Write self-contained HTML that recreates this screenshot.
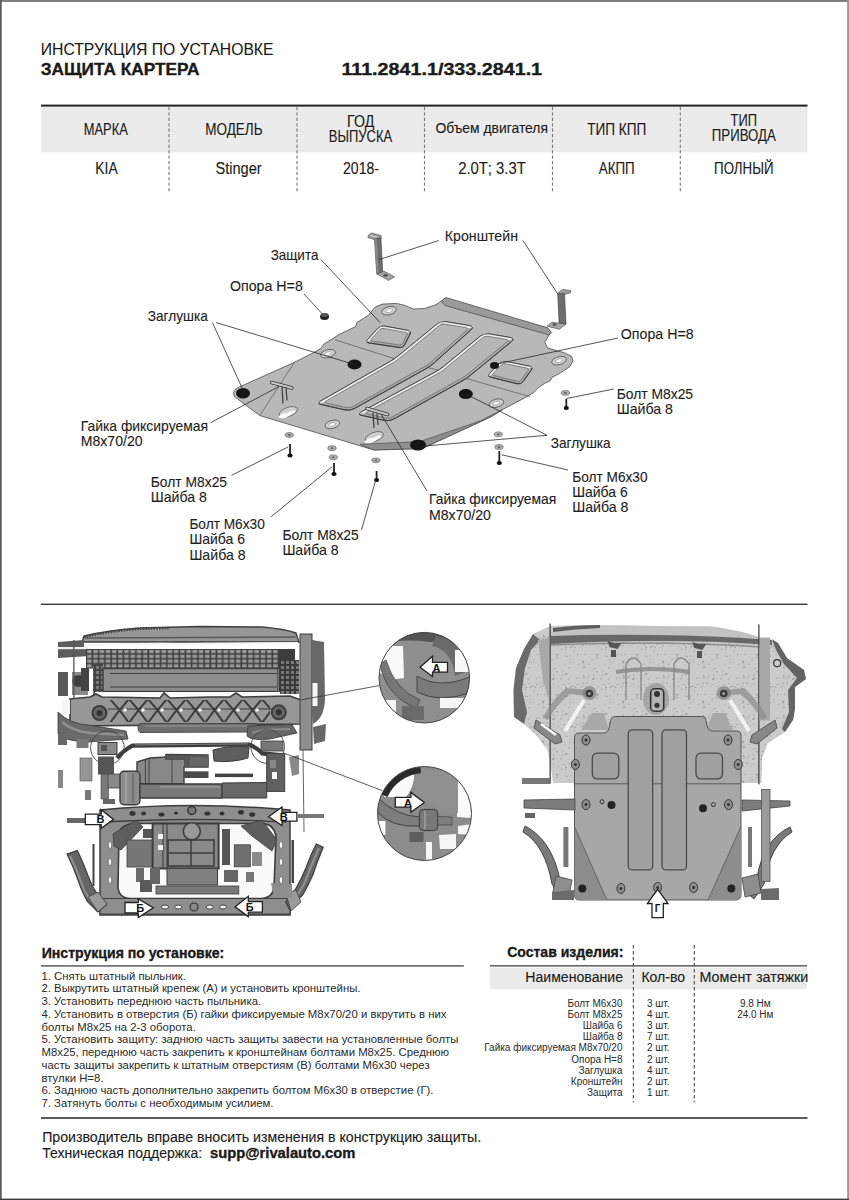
<!DOCTYPE html>
<html><head><meta charset="utf-8"><style>
html,body{margin:0;padding:0;background:#fff;}
body{width:849px;height:1200px;overflow:hidden;position:relative;}
svg{position:absolute;left:0;top:0;font-family:'Liberation Sans', sans-serif;}
</style></head><body>
<svg width="849" height="1200" viewBox="0 0 849 1200">
<rect width="849" height="1200" fill="#fff"/>
<text x="40.8" y="54.5" font-size="16.2" textLength="232.7" lengthAdjust="spacingAndGlyphs" fill="#1a1a1a" stroke="#1a1a1a" stroke-width="0.12">ИНСТРУКЦИЯ ПО УСТАНОВКЕ</text>
<text x="40.8" y="74.8" font-size="16.2" font-weight="bold" textLength="158.6" lengthAdjust="spacingAndGlyphs" fill="#1a1a1a" stroke="#1a1a1a" stroke-width="0.35">ЗАЩИТА КАРТЕРА</text>
<text x="341.4" y="74.8" font-size="16.2" font-weight="bold" textLength="200.7" lengthAdjust="spacingAndGlyphs" fill="#1a1a1a" stroke="#1a1a1a" stroke-width="0.35">111.2841.1/333.2841.1</text>
<rect x="41" y="106.5" width="766.5" height="45.8" fill="#ebebeb"/>
<rect x="41" y="104.6" width="766.5" height="2" fill="#222"/>
<line x1="169" y1="107" x2="169" y2="193.5" stroke="#777" stroke-width="1.1" stroke-dasharray="3.2,2.2"/>
<line x1="297" y1="107" x2="297" y2="193.5" stroke="#777" stroke-width="1.1" stroke-dasharray="3.2,2.2"/>
<line x1="424.5" y1="107" x2="424.5" y2="193.5" stroke="#777" stroke-width="1.1" stroke-dasharray="3.2,2.2"/>
<line x1="552.5" y1="107" x2="552.5" y2="193.5" stroke="#777" stroke-width="1.1" stroke-dasharray="3.2,2.2"/>
<line x1="680.3" y1="107" x2="680.3" y2="193.5" stroke="#777" stroke-width="1.1" stroke-dasharray="3.2,2.2"/>
<text x="105.8" y="134.6" font-size="16.3" text-anchor="middle" textLength="44.1" lengthAdjust="spacingAndGlyphs" fill="#1a1a1a" stroke="#1a1a1a" stroke-width="0.12">МАРКА</text>
<text x="233.9" y="134.6" font-size="16.3" text-anchor="middle" textLength="57.3" lengthAdjust="spacingAndGlyphs" fill="#1a1a1a" stroke="#1a1a1a" stroke-width="0.12">МОДЕЛЬ</text>
<text x="360.7" y="127.2" font-size="16.3" text-anchor="middle" textLength="27.2" lengthAdjust="spacingAndGlyphs" fill="#1a1a1a" stroke="#1a1a1a" stroke-width="0.12">ГОД</text>
<text x="360.5" y="141.8" font-size="16.3" text-anchor="middle" textLength="63.3" lengthAdjust="spacingAndGlyphs" fill="#1a1a1a" stroke="#1a1a1a" stroke-width="0.12">ВЫПУСКА</text>
<text x="491.7" y="133.2" font-size="14.6" text-anchor="middle" textLength="112.6" lengthAdjust="spacingAndGlyphs" fill="#1a1a1a" stroke="#1a1a1a" stroke-width="0.12">Объем двигателя</text>
<text x="616.7" y="134.6" font-size="16.3" text-anchor="middle" textLength="59" lengthAdjust="spacingAndGlyphs" fill="#1a1a1a" stroke="#1a1a1a" stroke-width="0.12">ТИП КПП</text>
<text x="743.8" y="125.7" font-size="16.3" text-anchor="middle" textLength="26.4" lengthAdjust="spacingAndGlyphs" fill="#1a1a1a" stroke="#1a1a1a" stroke-width="0.12">ТИП</text>
<text x="743.8" y="141.2" font-size="16.3" text-anchor="middle" textLength="64" lengthAdjust="spacingAndGlyphs" fill="#1a1a1a" stroke="#1a1a1a" stroke-width="0.12">ПРИВОДА</text>
<text x="106.5" y="174.0" font-size="16.3" text-anchor="middle" textLength="22.3" lengthAdjust="spacingAndGlyphs" fill="#1a1a1a" stroke="#1a1a1a" stroke-width="0.12">KIA</text>
<text x="238.6" y="174.0" font-size="16.3" text-anchor="middle" textLength="46.3" lengthAdjust="spacingAndGlyphs" fill="#1a1a1a" stroke="#1a1a1a" stroke-width="0.12">Stinger</text>
<text x="361" y="174.0" font-size="16.3" text-anchor="middle" textLength="36" lengthAdjust="spacingAndGlyphs" fill="#1a1a1a" stroke="#1a1a1a" stroke-width="0.12">2018-</text>
<text x="492" y="174.0" font-size="16.3" text-anchor="middle" textLength="67.7" lengthAdjust="spacingAndGlyphs" fill="#1a1a1a" stroke="#1a1a1a" stroke-width="0.12">2.0Т; 3.3Т</text>
<text x="616.7" y="174.0" font-size="16.3" text-anchor="middle" textLength="36" lengthAdjust="spacingAndGlyphs" fill="#1a1a1a" stroke="#1a1a1a" stroke-width="0.12">АКПП</text>
<text x="743.8" y="174.0" font-size="16.3" text-anchor="middle" textLength="59.4" lengthAdjust="spacingAndGlyphs" fill="#1a1a1a" stroke="#1a1a1a" stroke-width="0.12">ПОЛНЫЙ</text>
<rect x="41" y="603.6" width="766.5" height="1.4" fill="#3a3a3a"/>
<polygon points="233.5,392.5 236,388.5 294,362.5 310,354.5 321,348.5 324,344 340,334 355.5,326.7 357,322.5 368.3,315.4 375.3,307 382.4,304.1 396.5,303.4 405,305.5 413.5,309 424.8,308.4 436,304.8 441.8,300.6 444.6,299.2 547.6,328.2 551.2,332.4 549,335.2 544.8,342.3 547.6,348 554.7,350 564.6,352.9 571.7,356.4 573,360.7 570.2,366.3 561.8,372 551.9,377.6 550.5,380.5 544.8,383.3 539.3,387 533.6,392.6 526.5,396.9 502.5,409.6 491.2,416.6 470,426.5 422.2,448.5 374,450 259.6,415.5 234.2,396.4" fill="#b8b8b8" stroke="#4a4a4a" stroke-width="0.8" stroke-linejoin="round"/>
<polygon points="443,299.5 446,297.5 547.6,327.8 551.2,332.4 549,335.2 546,334 445,305.5 441.8,302" fill="#9a9a9a" stroke="#444" stroke-width="0.7"/>
<polygon points="360,444.3 420,441.5 480,421 502.5,409.6 491.2,416.6 470,426.5 422.2,448.5 374,450" fill="#8e8e8e" stroke="#444" stroke-width="0.6"/>
<polyline points="294.3,362.5 260.3,414.8" fill="none" stroke="#555" stroke-width="0.7"/>
<polyline points="335.2,339.8 394.8,358.8 435.5,369.6 530,396.7" fill="none" stroke="#555" stroke-width="0.7"/>
<path d="M377.80,328.36 Q380.50,325.40 384.43,326.12 L407.67,330.38 Q411.60,331.10 409.79,334.66 L404.81,344.44 Q403.00,348.00 399.04,347.42 L368.96,342.98 Q365.00,342.40 367.70,339.44 Z" fill="#a9a9a9" stroke="#333" stroke-width="0.8"/>
<polygon points="365,342.4 380.5,325.4 411.6,331.1 408.0,332.88 381.38,328.0 369.81,340.68" fill="#ececec"/>
<path d="M379.69,329.85 Q381.38,328.00 383.84,328.45 L405.54,332.43 Q408.00,332.88 406.87,335.11 L402.77,343.14 Q401.64,345.37 399.17,345.01 L372.28,341.04 Q369.81,340.68 371.50,338.83 Z" fill="#b6b6b6" stroke="#555" stroke-width="0.6"/>
<path d="M377.80,328.36 Q380.50,325.40 384.43,326.12 L407.67,330.38 Q411.60,331.10 409.79,334.66 L404.81,344.44 Q403.00,348.00 399.04,347.42 L368.96,342.98 Q365.00,342.40 367.70,339.44 Z" fill="none" stroke="#333" stroke-width="0.8"/>
<path d="M499.57,363.53 Q502.40,360.70 506.32,361.49 L529.58,366.21 Q533.50,367.00 531.17,370.25 L523.13,381.45 Q520.80,384.70 516.92,383.73 L490.78,377.17 Q486.90,376.20 489.73,373.37 Z" fill="#a9a9a9" stroke="#333" stroke-width="0.8"/>
<polygon points="486.9,376.2 502.4,360.7 533.5,367 529.39,368.62 503.19,363.31 491.59,374.9" fill="#ececec"/>
<path d="M501.42,365.08 Q503.19,363.31 505.64,363.81 L526.94,368.12 Q529.39,368.62 527.93,370.65 L521.26,379.95 Q519.80,381.98 517.38,381.37 L494.01,375.51 Q491.59,374.90 493.36,373.13 Z" fill="#b6b6b6" stroke="#555" stroke-width="0.6"/>
<path d="M499.57,363.53 Q502.40,360.70 506.32,361.49 L529.58,366.21 Q533.50,367.00 531.17,370.25 L523.13,381.45 Q520.80,384.70 516.92,383.73 L490.78,377.17 Q486.90,376.20 489.73,373.37 Z" fill="none" stroke="#333" stroke-width="0.8"/>
<path d="M437.04,323.98 Q440.90,320.80 445.83,321.63 L469.77,325.67 Q474.70,326.50 470.97,329.83 L433.73,363.17 Q430.00,366.50 425.63,368.93 L354.37,408.57 Q350.00,411.00 345.12,409.91 L321.18,404.59 Q316.30,403.50 320.64,401.03 L390.46,361.27 Q394.80,358.80 398.66,355.62 Z" fill="#a9a9a9" stroke="#333" stroke-width="0.8"/>
<polygon points="316.3,403.5 394.8,358.8 440.9,320.8 474.7,326.5 468.94,328.17 441.64,323.56 396.28,360.95 323.44,402.43" fill="#ececec"/>
<path d="M438.94,325.79 Q441.64,323.56 445.09,324.14 L465.49,327.59 Q468.94,328.17 466.33,330.50 L431.09,362.04 Q428.48,364.37 425.42,366.07 L352.66,406.55 Q349.60,408.25 346.18,407.49 L326.86,403.19 Q323.44,402.43 326.48,400.70 L393.24,362.68 Q396.28,360.95 398.98,358.72 Z" fill="#b6b6b6" stroke="#555" stroke-width="0.6"/>
<path d="M437.04,323.98 Q440.90,320.80 445.83,321.63 L469.77,325.67 Q474.70,326.50 470.97,329.83 L433.73,363.17 Q430.00,366.50 425.63,368.93 L354.37,408.57 Q350.00,411.00 345.12,409.91 L321.18,404.59 Q316.30,403.50 320.64,401.03 L390.46,361.27 Q394.80,358.80 398.66,355.62 Z" fill="none" stroke="#333" stroke-width="0.8"/>
<path d="M480.34,336.18 Q484.20,333.00 489.13,333.85 L510.47,337.55 Q515.40,338.40 511.53,341.57 L470.37,375.33 Q466.50,378.50 462.13,380.94 L393.77,419.06 Q389.40,421.50 384.52,420.42 L361.78,415.38 Q356.90,414.30 361.30,411.93 L435.60,371.87 Q440.00,369.50 443.86,366.32 Z" fill="#a9a9a9" stroke="#333" stroke-width="0.8"/>
<polygon points="356.9,414.3 440,369.5 484.2,333 515.4,338.4 509.36,339.99 484.93,335.77 441.46,371.67 364.28,413.27" fill="#ececec"/>
<path d="M482.23,338.00 Q484.93,335.77 488.38,336.37 L505.91,339.39 Q509.36,339.99 506.65,342.21 L467.74,374.12 Q465.03,376.34 461.97,378.05 L392.06,417.04 Q389.00,418.75 385.58,417.99 L367.70,414.03 Q364.28,413.27 367.36,411.61 L438.38,373.33 Q441.46,371.67 444.16,369.44 Z" fill="#b6b6b6" stroke="#555" stroke-width="0.6"/>
<path d="M480.34,336.18 Q484.20,333.00 489.13,333.85 L510.47,337.55 Q515.40,338.40 511.53,341.57 L470.37,375.33 Q466.50,378.50 462.13,380.94 L393.77,419.06 Q389.40,421.50 384.52,420.42 L361.78,415.38 Q356.90,414.30 361.30,411.93 L435.60,371.87 Q440.00,369.50 443.86,366.32 Z" fill="none" stroke="#333" stroke-width="0.8"/>
<ellipse cx="354.5" cy="364.5" rx="7" ry="5" fill="#151515"/>
<ellipse cx="465.8" cy="394.1" rx="7" ry="5" fill="#151515"/>
<ellipse cx="494.5" cy="365.6" rx="4.5" ry="3.5" fill="#151515"/>
<ellipse cx="418" cy="445" rx="8" ry="5.5" fill="#151515"/>
<ellipse cx="243" cy="393.3" rx="7" ry="5.2" fill="#151515"/>
<ellipse cx="389" cy="310.7" rx="7.5" ry="4" fill="#d0d0d0" stroke="#444" stroke-width="0.7" transform="rotate(-15 389 310.7)"/>
<ellipse cx="389" cy="310.7" rx="3.5" ry="1.8" fill="#fafafa" stroke="#666" stroke-width="0.4" transform="rotate(-15 389 310.7)"/>
<ellipse cx="328" cy="353.7" rx="7.5" ry="4" fill="#d0d0d0" stroke="#444" stroke-width="0.7" transform="rotate(-15 328 353.7)"/>
<ellipse cx="328" cy="353.7" rx="3.5" ry="1.8" fill="#fafafa" stroke="#666" stroke-width="0.4" transform="rotate(-15 328 353.7)"/>
<ellipse cx="496.4" cy="403.2" rx="7.5" ry="4" fill="#d0d0d0" stroke="#444" stroke-width="0.7" transform="rotate(-15 496.4 403.2)"/>
<ellipse cx="496.4" cy="403.2" rx="3.5" ry="1.8" fill="#fafafa" stroke="#666" stroke-width="0.4" transform="rotate(-15 496.4 403.2)"/>
<ellipse cx="332.4" cy="424.4" rx="7.5" ry="4" fill="#d0d0d0" stroke="#444" stroke-width="0.7" transform="rotate(-15 332.4 424.4)"/>
<ellipse cx="332.4" cy="424.4" rx="3.5" ry="1.8" fill="#fafafa" stroke="#666" stroke-width="0.4" transform="rotate(-15 332.4 424.4)"/>
<ellipse cx="559" cy="360.7" rx="7.5" ry="4" fill="#d0d0d0" stroke="#444" stroke-width="0.7" transform="rotate(-15 559 360.7)"/>
<ellipse cx="559" cy="360.7" rx="3.5" ry="1.8" fill="#fafafa" stroke="#666" stroke-width="0.4" transform="rotate(-15 559 360.7)"/>
<ellipse cx="289" cy="412.5" rx="9.5" ry="4.5" fill="#cfcfcf" stroke="#444" stroke-width="0.6" transform="rotate(-20 287 414)"/>
<path d="M278,417 q4,-4 9,-4 q5,-2 7,-3 l1,2 q-4,2 -6,4 q-6,4 -11,1 z" fill="#fdfdfd"/>
<ellipse cx="375" cy="437.5" rx="9.5" ry="4.5" fill="#cfcfcf" stroke="#444" stroke-width="0.6" transform="rotate(-20 373 439)"/>
<path d="M364,442 q4,-4 9,-4 q5,-2 7,-3 l1,2 q-4,2 -6,4 q-6,4 -11,1 z" fill="#fdfdfd"/>
<line x1="271.6" y1="382.5" x2="292" y2="388" stroke="#333" stroke-width="3.4" stroke-linecap="round"/>
<line x1="271.6" y1="382.5" x2="292" y2="388" stroke="#c9c9c9" stroke-width="2" stroke-linecap="round"/>
<line x1="282" y1="386.25" x2="283" y2="403.5" stroke="#444" stroke-width="1.3"/>
<line x1="286" y1="387.25" x2="287" y2="400.5" stroke="#444" stroke-width="1.3"/>
<line x1="367" y1="408.5" x2="387.6" y2="414.5" stroke="#333" stroke-width="3.4" stroke-linecap="round"/>
<line x1="367" y1="408.5" x2="387.6" y2="414.5" stroke="#c9c9c9" stroke-width="2" stroke-linecap="round"/>
<line x1="373" y1="412.5" x2="374" y2="428" stroke="#444" stroke-width="1.3"/>
<line x1="377" y1="413.5" x2="378" y2="425" stroke="#444" stroke-width="1.3"/>
<ellipse cx="324.5" cy="316.5" rx="4.5" ry="3.5" fill="#222"/>
<ellipse cx="324.5" cy="315" rx="3.5" ry="2" fill="#555"/>
<polygon points="368.3,235.2 371.5,233 381,235.5 381.2,238.3 374.4,239.6 368,237.6" fill="#9a9a9a" stroke="#444" stroke-width="0.6" stroke-linejoin="round"/>
<line x1="370" y1="235.5" x2="377" y2="237.2" stroke="#eee" stroke-width="0.8"/>
<polygon points="374.4,239.2 380.9,237.8 382.7,271.5 376.8,274" fill="#6e6e6e" stroke="#3a3a3a" stroke-width="0.6" stroke-linejoin="round"/>
<polygon points="374.4,239.2 376.6,238.7 378.6,273.3 376.8,274" fill="#8a8a8a"/>
<polygon points="376.8,274 383.9,271.3 394.5,276.8 388.6,280.4" fill="#a6a6a6" stroke="#3a3a3a" stroke-width="0.6" stroke-linejoin="round"/>
<ellipse cx="385.6" cy="275.3" rx="2.2" ry="1.5" fill="#555"/>
<polygon points="557.4,293.2 562.6,289.4 570.7,290.5 570.5,292.8 564.5,294.4 558,294.6" fill="#9a9a9a" stroke="#444" stroke-width="0.6" stroke-linejoin="round"/>
<polygon points="557.7,293.9 564.5,293.7 566,323.9 559.3,327.2" fill="#6e6e6e" stroke="#3a3a3a" stroke-width="0.6" stroke-linejoin="round"/>
<polygon points="547,326.2 551.8,322.2 566,323.9 559.3,329.3" fill="#a6a6a6" stroke="#3a3a3a" stroke-width="0.6" stroke-linejoin="round"/>
<ellipse cx="554.6" cy="324.6" rx="2.2" ry="1.4" fill="#555"/>
<ellipse cx="289.2" cy="435" rx="4.2" ry="2.4" fill="#b0b0b0" stroke="#555" stroke-width="0.6"/>
<ellipse cx="289.2" cy="435" rx="1.6" ry="0.9" fill="#666"/>
<ellipse cx="332" cy="448.2" rx="4.2" ry="2.4" fill="#b0b0b0" stroke="#555" stroke-width="0.6"/>
<ellipse cx="332" cy="448.2" rx="1.6" ry="0.9" fill="#666"/>
<ellipse cx="333.3" cy="457.3" rx="4.2" ry="2.4" fill="#b0b0b0" stroke="#555" stroke-width="0.6"/>
<ellipse cx="333.3" cy="457.3" rx="1.6" ry="0.9" fill="#666"/>
<ellipse cx="375.9" cy="460.3" rx="4.2" ry="2.4" fill="#b0b0b0" stroke="#555" stroke-width="0.6"/>
<ellipse cx="375.9" cy="460.3" rx="1.6" ry="0.9" fill="#666"/>
<ellipse cx="565.4" cy="392.9" rx="4.2" ry="2.4" fill="#b0b0b0" stroke="#555" stroke-width="0.6"/>
<ellipse cx="565.4" cy="392.9" rx="1.6" ry="0.9" fill="#666"/>
<ellipse cx="498.3" cy="434.3" rx="4.2" ry="2.4" fill="#b0b0b0" stroke="#555" stroke-width="0.6"/>
<ellipse cx="498.3" cy="434.3" rx="1.6" ry="0.9" fill="#666"/>
<ellipse cx="499" cy="447" rx="4.2" ry="2.4" fill="#b0b0b0" stroke="#555" stroke-width="0.6"/>
<ellipse cx="499" cy="447" rx="1.6" ry="0.9" fill="#666"/>
<line x1="290" y1="444" x2="290" y2="455.5" stroke="#222" stroke-width="1.8"/>
<ellipse cx="290" cy="455.5" rx="2.6" ry="1.9" fill="#111"/>
<line x1="334" y1="463" x2="334" y2="474" stroke="#222" stroke-width="1.8"/>
<ellipse cx="334" cy="474" rx="2.6" ry="1.9" fill="#111"/>
<line x1="376.6" y1="471" x2="376.6" y2="480" stroke="#222" stroke-width="1.8"/>
<ellipse cx="376.6" cy="480" rx="2.6" ry="1.9" fill="#111"/>
<line x1="566.3" y1="399" x2="566.3" y2="408" stroke="#222" stroke-width="1.8"/>
<ellipse cx="566.3" cy="408" rx="2.6" ry="1.9" fill="#111"/>
<line x1="499.3" y1="451" x2="499.3" y2="463" stroke="#222" stroke-width="1.8"/>
<ellipse cx="499.3" cy="463" rx="2.6" ry="1.9" fill="#111"/>
<line x1="438.6" y1="240.6" x2="379.1" y2="259.5" stroke="#2a2a2a" stroke-width="0.8"/>
<line x1="523" y1="240.6" x2="557.5" y2="293.7" stroke="#2a2a2a" stroke-width="0.8"/>
<line x1="321" y1="259.6" x2="380" y2="322.5" stroke="#2a2a2a" stroke-width="0.8"/>
<line x1="304" y1="294" x2="322" y2="313.6" stroke="#2a2a2a" stroke-width="0.8"/>
<line x1="212.4" y1="322.5" x2="243" y2="390" stroke="#2a2a2a" stroke-width="0.8"/>
<line x1="216" y1="322.5" x2="354.5" y2="364.5" stroke="#2a2a2a" stroke-width="0.8"/>
<line x1="618" y1="338" x2="497" y2="364" stroke="#2a2a2a" stroke-width="0.8"/>
<line x1="613.8" y1="389" x2="566.4" y2="398.5" stroke="#2a2a2a" stroke-width="0.8"/>
<line x1="547" y1="435.3" x2="466" y2="394" stroke="#2a2a2a" stroke-width="0.8"/>
<line x1="547" y1="435.3" x2="425" y2="446" stroke="#2a2a2a" stroke-width="0.8"/>
<line x1="501.8" y1="454.8" x2="568" y2="470" stroke="#2a2a2a" stroke-width="0.8"/>
<line x1="381" y1="414" x2="427" y2="491" stroke="#2a2a2a" stroke-width="0.8"/>
<line x1="210.8" y1="422.6" x2="279" y2="386.5" stroke="#2a2a2a" stroke-width="0.8"/>
<line x1="231.5" y1="475.4" x2="288" y2="447" stroke="#2a2a2a" stroke-width="0.8"/>
<line x1="271" y1="516.8" x2="332" y2="467" stroke="#2a2a2a" stroke-width="0.8"/>
<line x1="361.5" y1="530" x2="376" y2="479" stroke="#2a2a2a" stroke-width="0.8"/>
<text x="444.8" y="240.6" font-size="14.1" textLength="73.2" lengthAdjust="spacingAndGlyphs" fill="#1e1e1e" stroke="#1e1e1e" stroke-width="0.12">Кронштейн</text>
<text x="270.7" y="259.6" font-size="14.1" textLength="47.7" lengthAdjust="spacingAndGlyphs" fill="#1e1e1e" stroke="#1e1e1e" stroke-width="0.12">Защита</text>
<text x="230" y="290.7" font-size="14.1" textLength="72.8" lengthAdjust="spacingAndGlyphs" fill="#1e1e1e" stroke="#1e1e1e" stroke-width="0.12">Опора Н=8</text>
<text x="147.8" y="320.7" font-size="14.1" textLength="60" lengthAdjust="spacingAndGlyphs" fill="#1e1e1e" stroke="#1e1e1e" stroke-width="0.12">Заглушка</text>
<text x="620.8" y="338.7" font-size="14.1" textLength="72.8" lengthAdjust="spacingAndGlyphs" fill="#1e1e1e" stroke="#1e1e1e" stroke-width="0.12">Опора Н=8</text>
<text x="616.7" y="399.0" font-size="14.1" textLength="76.4" lengthAdjust="spacingAndGlyphs" fill="#1e1e1e" stroke="#1e1e1e" stroke-width="0.12">Болт М8х25</text>
<text x="616.7" y="414.35" font-size="14.1" textLength="56.2" lengthAdjust="spacingAndGlyphs" fill="#1e1e1e" stroke="#1e1e1e" stroke-width="0.12">Шайба 8</text>
<text x="80.7" y="431.0" font-size="14.1" textLength="127.3" lengthAdjust="spacingAndGlyphs" fill="#1e1e1e" stroke="#1e1e1e" stroke-width="0.12">Гайка фиксируемая</text>
<text x="80.7" y="446.35" font-size="14.1" fill="#1e1e1e" stroke="#1e1e1e" stroke-width="0.12">М8х70/20</text>
<text x="550.7" y="447.7" font-size="14.1" textLength="60" lengthAdjust="spacingAndGlyphs" fill="#1e1e1e" stroke="#1e1e1e" stroke-width="0.12">Заглушка</text>
<text x="150.7" y="487.0" font-size="14.1" textLength="76.4" lengthAdjust="spacingAndGlyphs" fill="#1e1e1e" stroke="#1e1e1e" stroke-width="0.12">Болт М8х25</text>
<text x="150.7" y="502.35" font-size="14.1" textLength="56.2" lengthAdjust="spacingAndGlyphs" fill="#1e1e1e" stroke="#1e1e1e" stroke-width="0.12">Шайба 8</text>
<text x="572.2" y="481.6" font-size="14.1" textLength="75.4" lengthAdjust="spacingAndGlyphs" fill="#1e1e1e" stroke="#1e1e1e" stroke-width="0.12">Болт М6х30</text>
<text x="572.2" y="496.95" font-size="14.1" textLength="55.6" lengthAdjust="spacingAndGlyphs" fill="#1e1e1e" stroke="#1e1e1e" stroke-width="0.12">Шайба 6</text>
<text x="572.2" y="512.3" font-size="14.1" textLength="56.2" lengthAdjust="spacingAndGlyphs" fill="#1e1e1e" stroke="#1e1e1e" stroke-width="0.12">Шайба 8</text>
<text x="429" y="504.2" font-size="14.1" textLength="127.3" lengthAdjust="spacingAndGlyphs" fill="#1e1e1e" stroke="#1e1e1e" stroke-width="0.12">Гайка фиксируемая</text>
<text x="429" y="519.55" font-size="14.1" fill="#1e1e1e" stroke="#1e1e1e" stroke-width="0.12">М8х70/20</text>
<text x="189.4" y="529.0" font-size="14.1" textLength="75.4" lengthAdjust="spacingAndGlyphs" fill="#1e1e1e" stroke="#1e1e1e" stroke-width="0.12">Болт М6х30</text>
<text x="189.4" y="544.35" font-size="14.1" textLength="55.6" lengthAdjust="spacingAndGlyphs" fill="#1e1e1e" stroke="#1e1e1e" stroke-width="0.12">Шайба 6</text>
<text x="189.4" y="559.7" font-size="14.1" textLength="56.2" lengthAdjust="spacingAndGlyphs" fill="#1e1e1e" stroke="#1e1e1e" stroke-width="0.12">Шайба 8</text>
<text x="282.4" y="539.5" font-size="14.1" textLength="76.4" lengthAdjust="spacingAndGlyphs" fill="#1e1e1e" stroke="#1e1e1e" stroke-width="0.12">Болт М8х25</text>
<text x="282.4" y="554.85" font-size="14.1" textLength="56.2" lengthAdjust="spacingAndGlyphs" fill="#1e1e1e" stroke="#1e1e1e" stroke-width="0.12">Шайба 8</text>
<path d="M82,642 L84,636 Q110,630 140,628 L200,626.5 L262,627 Q285,629 296,633 L299,642 Z" fill="#969696" stroke="#3d3d3d" stroke-width="1.4"/>
<path d="M84,637 Q110,631 140,629 L170,628" fill="none" stroke="#444" stroke-width="2.2" stroke-dasharray="1.5,1.2"/>
<path d="M85,638 L296,637" stroke="#5a5a5a" stroke-width="1.6"/>
<path d="M62,646 Q120,643.5 180,644 L298,643" fill="none" stroke="#f6f6f6" stroke-width="2.2"/>
<path d="M58,642 L84,640 L84,648 L90,650 L90,656 L58,658 Z" fill="#5c5c5c"/>
<rect x="58" y="647" width="30" height="2.2" fill="#eee"/>
<rect x="58" y="672" width="10" height="24" fill="#5a5a5a"/>
<rect x="72" y="672" width="16" height="23" fill="#8a8a8a"/>
<circle cx="78.3" cy="681" r="6" fill="#3f3f3f"/>
<rect x="81" y="668" width="8" height="23" fill="#444"/>
<rect x="73.2" y="640" width="1.3" height="90" fill="#555"/>
<rect x="86" y="649" width="209" height="19.5" fill="#3d3d3d"/>
<defs><pattern id="grl" x="86" y="649" width="6.2" height="4.8" patternUnits="userSpaceOnUse"><rect x="1.1" y="0.9" width="4.6" height="3.3" fill="#999"/></pattern><pattern id="grd" x="0" y="0" width="5" height="5" patternUnits="userSpaceOnUse"><rect x="1" y="1" width="3" height="3" fill="#777"/></pattern></defs>
<rect x="87" y="650" width="192" height="18" fill="url(#grl)"/>
<rect x="279" y="660" width="20" height="34" fill="#3a3a3a"/><rect x="279" y="660" width="20" height="34" fill="url(#grd)"/>
<rect x="93" y="664" width="10" height="32" fill="#444"/><rect x="93" y="664" width="10" height="32" fill="url(#grd)"/>
<rect x="103" y="668.5" width="175" height="23" fill="#8e8e8e" stroke="#3d3d3d" stroke-width="1.4"/>
<line x1="110" y1="673.5" x2="277" y2="673.5" stroke="#3d3d3d" stroke-width="1.1"/>
<line x1="110" y1="687" x2="277" y2="687" stroke="#3d3d3d" stroke-width="1.1"/>
<rect x="95" y="692" width="185" height="4.5" fill="#fbfbfb"/>
<path d="M70,699 L90,697 L96,694 L102,697 L160,698 L164,693 L170,698 L210,697 L230,697 L236,693 L242,697 L290,696 L301,700 L301,724 L70,726 Z" fill="#979797" stroke="#3d3d3d" stroke-width="1.6"/>
<defs><pattern id="xp" x="110" y="699" width="19" height="24" patternUnits="userSpaceOnUse"><path d="M0,0 L9.5,11 L0,24 M19,0 L9.5,11 L19,24 M9.5,11 L9.5,13" stroke="#3d3d3d" stroke-width="2.0" fill="none"/></pattern></defs>
<rect x="110" y="700" width="160" height="22" fill="url(#xp)"/>
<line x1="108" y1="709" x2="272" y2="709" stroke="#3d3d3d" stroke-width="1.2"/>
<circle cx="99.5" cy="713" r="7" fill="#666" stroke="#3d3d3d" stroke-width="2"/><circle cx="99.5" cy="713" r="3" fill="#333"/>
<circle cx="278.8" cy="712.3" r="7" fill="#666" stroke="#3d3d3d" stroke-width="2"/><circle cx="278.8" cy="712.3" r="3" fill="#333"/>
<circle cx="125" cy="710" r="1.8" fill="#f2f2f2"/>
<circle cx="143" cy="710" r="1.8" fill="#f2f2f2"/>
<circle cx="162" cy="710" r="1.8" fill="#f2f2f2"/>
<circle cx="181" cy="710" r="1.8" fill="#f2f2f2"/>
<circle cx="200" cy="710" r="1.8" fill="#f2f2f2"/>
<circle cx="219" cy="710" r="1.8" fill="#f2f2f2"/>
<circle cx="238" cy="710" r="1.8" fill="#f2f2f2"/>
<circle cx="257" cy="710" r="1.8" fill="#f2f2f2"/>
<rect x="62" y="700" width="8" height="14" fill="#f6f6f6"/>
<rect x="300" y="634" width="12" height="116" fill="#8e8e8e" stroke="#3d3d3d" stroke-width="1"/>
<line x1="303" y1="750" x2="304" y2="832" stroke="#666" stroke-width="1"/>
<path d="M312,640 L324,642 L325,700 Q324,718 313,724 L312,716 Z" fill="#686868"/>
<rect x="312.5" y="683" width="5" height="23" fill="#f5f5f5"/>
<path d="M313,727 L326,724 L325,741 L314,744 Z" fill="#686868"/>
<path d="M58,712 Q70,724 88,725 L126,731 L128,739 L88,742 Q64,741 58,734 Z" fill="#6a6a6a" stroke="#3a3a3a" stroke-width="0.8"/>
<path d="M62,722 Q72,731 90,733 L124,735" fill="none" stroke="#8f8f8f" stroke-width="2.5"/>
<rect x="58" y="732" width="9" height="13" fill="#686868"/>
<rect x="76.5" y="739" width="12" height="9" fill="#7a7a7a"/>
<path d="M140,723.5 L255,723.5 L262,726 L258,732 L140,732.5 Q136,729 140,723.5 Z" fill="#6e6e6e" stroke="#3a3a3a" stroke-width="0.8"/>
<path d="M145,726 L250,726" stroke="#8c8c8c" stroke-width="1.6"/>
<path d="M248,726 L292,724.5 L297,733 L270,739 Q252,741 247,736 Z" fill="#666" stroke="#3a3a3a" stroke-width="0.8"/>
<path d="M252,733 Q262,729 290,729" fill="none" stroke="#8a8a8a" stroke-width="2"/>
<path d="M117,758 Q124,750 132.4,745.6 L248.8,744.5 Q256,747 262.2,753.4 L285,755.7" fill="none" stroke="#3d3d3d" stroke-width="4.2"/>
<path d="M135,744.8 L248,743.8" stroke="#777" stroke-width="1.3"/>
<circle cx="107.4" cy="747.7" r="16.8" fill="none" stroke="#444" stroke-width="0.9"/>
<circle cx="267.7" cy="746.6" r="16.8" fill="none" stroke="#444" stroke-width="0.9"/>
<rect x="98" y="742.5" width="19" height="12" fill="#8a8a8a" stroke="#3d3d3d" stroke-width="1"/>
<rect x="101" y="745" width="6" height="6" fill="#555"/>
<rect x="261" y="741" width="22" height="10" fill="#777" stroke="#3d3d3d" stroke-width="0.8"/>
<path d="M213,750 Q230,745 249,747 L248,758 Q232,763 214,761 Z" fill="#5e5e5e" stroke="#3d3d3d" stroke-width="1"/>
<rect x="80" y="758" width="12" height="23" fill="#959595" stroke="#555" stroke-width="0.6"/>
<rect x="98" y="756.5" width="16" height="18" fill="#555"/>
<rect x="101" y="774" width="7.5" height="25" fill="#7a7a7a" stroke="#444" stroke-width="0.6"/>
<rect x="108" y="774" width="12.5" height="14" fill="#8a8a8a" stroke="#444" stroke-width="0.8"/>
<rect x="103" y="799" width="12" height="5" fill="#666"/>
<path d="M137,762 L150,758 L165,757 L166,754.5 L208,755 L208,767 L184,767 L184,783.6 L137,783.6 Z" fill="#888" stroke="#3d3d3d" stroke-width="1.4"/>
<path d="M165,755 L208,755 L208,767 L184,767 L184,760 L165,760 Z" fill="#555"/>
<line x1="145.4" y1="759" x2="145.4" y2="783" stroke="#3d3d3d" stroke-width="0.9"/>
<line x1="149" y1="759" x2="149" y2="783" stroke="#3d3d3d" stroke-width="0.9"/>
<line x1="172" y1="759" x2="172" y2="783" stroke="#3d3d3d" stroke-width="0.9"/>
<rect x="184" y="771.3" width="24.5" height="6.7" fill="#4a4a4a"/>
<rect x="215" y="773.6" width="38" height="3.5" fill="#444"/>
<rect x="120" y="771.3" width="20" height="33.5" rx="4" fill="#8c8c8c" stroke="#3d3d3d" stroke-width="1.4"/>
<line x1="126" y1="773" x2="126" y2="803" stroke="#aaa" stroke-width="1.5"/>
<line x1="133" y1="773" x2="133" y2="803" stroke="#555" stroke-width="1"/>
<path d="M140,784 L222,784 L222,798 L140,798 Z" fill="#7a7a7a" stroke="#3d3d3d" stroke-width="1.3"/>
<path d="M160,787 L220,787" stroke="#999" stroke-width="1.5"/>
<path d="M222,783 L266.7,782.5 L266.7,798 L222,798 Z" fill="#686868" stroke="#3d3d3d" stroke-width="1"/>
<rect x="266.7" y="753.4" width="18" height="38" fill="#606060" stroke="#3d3d3d" stroke-width="1"/>
<rect x="270" y="760" width="6" height="8" fill="#888"/><rect x="272" y="772" width="5" height="7" fill="#fafafa"/>
<path d="M289,757 L299,755 L299,774 L292,776 Z" fill="#8a8a8a"/>
<rect x="190" y="757" width="19" height="9" fill="#666"/>
<rect x="58" y="770" width="5" height="18" fill="#888"/>
<rect x="85" y="790" width="6" height="10" fill="#777"/>
<path d="M100,810 Q190,801 290,810 L290,915 L100,915 Z" fill="#8e8e8e" stroke="#3d3d3d" stroke-width="1.5"/>
<path d="M119,832 Q122,824 135,823.5 L262,823.5 Q274,824 276,836 L274,888 Q272,898 262,898.5 L130,898.5 Q119,898 118,888 Z" fill="#fafafa" stroke="#3d3d3d" stroke-width="1.6"/>
<path d="M104,822 Q190,817 286,822" fill="none" stroke="#3d3d3d" stroke-width="1.3"/>
<ellipse cx="132.5" cy="813.4" rx="3" ry="2.3" fill="#333"/>
<ellipse cx="143.6" cy="813.4" rx="2.5" ry="2" fill="#333"/>
<ellipse cx="161.5" cy="814.5" rx="3" ry="2" fill="#333"/>
<ellipse cx="207.4" cy="813.4" rx="3" ry="2" fill="#333"/>
<ellipse cx="222" cy="813.4" rx="2.5" ry="2" fill="#333"/>
<ellipse cx="241" cy="812.3" rx="3" ry="2.3" fill="#333"/>
<ellipse cx="252.2" cy="814.5" rx="3" ry="2.3" fill="#333"/>
<ellipse cx="176" cy="813" rx="2" ry="1.6" fill="#333"/>
<circle cx="191.8" cy="810.5" r="4" fill="#777" stroke="#333" stroke-width="1.4"/>
<ellipse cx="110" cy="845" rx="1.8" ry="3.5" fill="#f3f3f3" stroke="#444" stroke-width="0.6"/>
<ellipse cx="281" cy="845" rx="1.8" ry="3.5" fill="#f3f3f3" stroke="#444" stroke-width="0.6"/>
<ellipse cx="110" cy="862" rx="1.8" ry="3.5" fill="#f3f3f3" stroke="#444" stroke-width="0.6"/>
<ellipse cx="281" cy="862" rx="1.8" ry="3.5" fill="#f3f3f3" stroke="#444" stroke-width="0.6"/>
<ellipse cx="110" cy="880" rx="1.8" ry="3.5" fill="#f3f3f3" stroke="#444" stroke-width="0.6"/>
<ellipse cx="281" cy="880" rx="1.8" ry="3.5" fill="#f3f3f3" stroke="#444" stroke-width="0.6"/>
<path d="M113,834 L136,820 L143,827 L121,850 L114,846 Z" fill="#5e5e5e" stroke="#3d3d3d" stroke-width="0.8"/>
<path d="M241,826 L262,820 L277,840 L272,851 L252,836 Z" fill="#5e5e5e" stroke="#3d3d3d" stroke-width="0.8"/>
<rect x="127" y="840" width="25.6" height="27" fill="#777" stroke="#3d3d3d" stroke-width="0.8"/>
<rect x="136" y="868" width="8" height="14" fill="#6a6a6a"/>
<rect x="140" y="880" width="12" height="12" fill="#5a5a5a"/>
<rect x="143" y="829" width="9" height="9" fill="#555"/>
<rect x="152.6" y="823.5" width="66" height="45" fill="#8a8a8a" stroke="#3d3d3d" stroke-width="2"/>
<circle cx="191.8" cy="831.3" r="8.5" fill="#999" stroke="#3d3d3d" stroke-width="1.6"/>
<rect x="168" y="840" width="46" height="26" fill="none" stroke="#3d3d3d" stroke-width="1.6"/>
<line x1="168" y1="853" x2="214" y2="853" stroke="#3d3d3d" stroke-width="1.5"/>
<line x1="191" y1="840" x2="191" y2="866" stroke="#3d3d3d" stroke-width="1.5"/>
<line x1="163" y1="824" x2="163" y2="868" stroke="#3d3d3d" stroke-width="1.1"/>
<line x1="167" y1="824" x2="167" y2="868" stroke="#3d3d3d" stroke-width="1.1"/>
<rect x="158" y="834" width="5" height="5" fill="#f5f5f5"/><rect x="158" y="845" width="5" height="5" fill="#f5f5f5"/>
<rect x="167" y="868.3" width="50.5" height="16.7" fill="#808080" stroke="#3d3d3d" stroke-width="1"/>
<rect x="156" y="886" width="82.8" height="8" fill="#7a7a7a" stroke="#3d3d3d" stroke-width="0.8"/>
<rect x="150" y="868" width="10" height="16" fill="#666"/>
<rect x="234.3" y="844.8" width="16" height="22" fill="#707070" stroke="#3d3d3d" stroke-width="0.8"/>
<rect x="222" y="829" width="8" height="36" fill="#555"/>
<rect x="252" y="852" width="10" height="14" fill="#8a8a8a"/>
<rect x="224" y="870" width="14" height="12" fill="#666"/>
<rect x="246" y="872" width="8" height="10" fill="#777"/>
<path d="M100,898.5 L290,898.5 L290,914 L100,914 Z" fill="#8e8e8e" stroke="#3d3d3d" stroke-width="1.2"/>
<ellipse cx="165" cy="907" rx="3.6" ry="2" fill="#f0f0f0" stroke="#333" stroke-width="0.9"/>
<ellipse cx="178.3" cy="907" rx="3.6" ry="2" fill="#f0f0f0" stroke="#333" stroke-width="0.9"/>
<ellipse cx="209.7" cy="907" rx="3.6" ry="2" fill="#f0f0f0" stroke="#333" stroke-width="0.9"/>
<ellipse cx="223" cy="907" rx="3.6" ry="2" fill="#f0f0f0" stroke="#333" stroke-width="0.9"/>
<circle cx="194" cy="907" r="4" fill="#888" stroke="#333" stroke-width="1.2"/>
<path d="M67,854 Q73,866 77.3,878 Q82,892 87.6,901.7 L97.8,912 L106.4,905 Q101,900 97.8,895 Q91,885 87.6,874.6 Q82,860 77.3,850.6 Z" fill="#666" stroke="#3d3d3d" stroke-width="1.2"/>
<path d="M70,856 Q78,872 84,890 Q88,898 95,904" fill="none" stroke="#8e8e8e" stroke-width="2.2"/>
<path d="M88,897 L98,892 L107,904 L98,912 Z" fill="#9a9a9a" stroke="#3d3d3d" stroke-width="0.8"/>
<path d="M323.2,847.3 Q317,862 313,874.6 Q308,886 302.7,895 L289,908.8 L285.7,902 Q291,896 296,888.2 Q302,878 306,867.7 Q311,854 316.4,844 Z" fill="#666" stroke="#3d3d3d" stroke-width="1.2"/>
<path d="M319,848 Q311,866 305,882 Q299,894 291,903" fill="none" stroke="#8e8e8e" stroke-width="2.2"/>
<path d="M286,894 L296,890 L301,902 L291,911 Z" fill="#9a9a9a" stroke="#3d3d3d" stroke-width="0.8"/>
<rect x="92.5" y="844" width="2" height="42" fill="#444"/>
<rect x="291.5" y="840" width="2.5" height="43" fill="#444"/>
<path d="M271,883 L292,884 L292,898 L274,898 Z" fill="#8e8e8e"/>
<rect x="67" y="818" width="19" height="5" fill="#666"/>
<rect x="298" y="814" width="26" height="4" fill="#777"/>
<path d="M85.3,814.1 L101.2,814.1 L101.2,809.7 L113.6,819.4000000000001 L101.2,828.3 L101.2,824.7 L85.3,824.7 Z" fill="#fff" stroke="#222" stroke-width="1.3"/>
<text x="100.44999999999999" y="823.4000000000001" font-size="11" font-weight="bold" text-anchor="middle" fill="#111">В</text>
<path d="M296.9,812.4 L282,812.4 L282,807 L268.6,816.8 L282,825.6 L282,821.2 L296.9,821.2 Z" fill="#fff" stroke="#222" stroke-width="1.3"/>
<text x="283.75" y="820.8" font-size="11" font-weight="bold" text-anchor="middle" fill="#111">В</text>
<path d="M125,902.5 L138.3,902.5 L138.3,898.9 L153.3,907.75 L138.3,917.5 L138.3,913 L125,913 Z" fill="#fff" stroke="#222" stroke-width="1.3"/>
<text x="140.15" y="911.75" font-size="11" font-weight="bold" text-anchor="middle" fill="#111">Б</text>
<path d="M262.4,901.6 L248.3,901.6 L248.3,896.3 L235,906.9000000000001 L248.3,916.6 L248.3,912.2 L262.4,912.2 Z" fill="#fff" stroke="#222" stroke-width="1.3"/>
<text x="249.7" y="910.9000000000001" font-size="11" font-weight="bold" text-anchor="middle" fill="#111">Б</text>
<defs><clipPath id="c1"><circle cx="424.3" cy="677.7" r="45.3"/></clipPath><clipPath id="c2"><circle cx="424.5" cy="813.5" r="47"/></clipPath></defs>
<g clip-path="url(#c1)">
<rect x="378" y="631" width="93" height="94" fill="#8f8f8f"/>
<path d="M380,632 L470,632 L470,650 Q450,640 430,642 Q400,638 380,645 Z" fill="#555"/>
<path d="M379,646 L403,646 L404,678 L390,680 L379,672 Z" fill="#fafafa"/>
<path d="M436,636 Q462,640 466,672 L455,676 Q452,650 432,646 Z" fill="#6a6a6a"/>
<path d="M417,676 Q440,690 472,676 L472,692 Q440,704 417,692 Z" fill="#7a7a7a" stroke="#444" stroke-width="1"/>
<path d="M386,660 Q395,690 420,700 L416,708 Q386,696 380,664 Z" fill="#777" stroke="#444" stroke-width="0.8"/>
<rect x="455" y="650" width="16" height="22" fill="#f8f8f8"/>
<rect x="440" y="698" width="30" height="10" fill="#f5f5f5"/>
<rect x="384" y="700" width="12" height="22" fill="#f5f5f5"/>
<rect x="402" y="706" width="22" height="14" fill="#6a6a6a"/>
</g>
<circle cx="424.3" cy="677.7" r="45.3" fill="none" stroke="#444" stroke-width="1"/>
<path d="M447.5,662.4 L432.5,662.4 L432.5,656.2 L420,667.3 L432.5,676.5 L432.5,672.1 L447.5,672.1 Z" fill="#fff" stroke="#222" stroke-width="1.3"/>
<text x="436.5" y="671.6" font-size="11" font-weight="bold" text-anchor="middle" fill="#111">А</text>
<g clip-path="url(#c2)">
<rect x="377" y="766" width="95" height="95" fill="#8c8c8c"/>
<path d="M385,773 L414,771 L414,779 Q412,790 406,797 L384,797 Q381,786 385,773 Z" fill="#fafafa"/>
<path d="M457.5,780 L472,780 L472,818 L457,817 Z" fill="#fafafa"/>
<path d="M414,768 L458,772 L458,813 L440,812 L425,800 L414,796 Z" fill="#909090"/>
<path d="M377,797 Q396,816 420,817 L420,826 Q392,828 377,812 Z" fill="#7d7d7d" stroke="#3a3a3a" stroke-width="0.9"/>
<rect x="419.4" y="809.4" width="18.3" height="21.2" rx="4" fill="#787878" stroke="#3a3a3a" stroke-width="1"/>
<line x1="425" y1="811" x2="425" y2="829" stroke="#a0a0a0" stroke-width="1.5"/>
<path d="M437.7,816.4 L452,817 L452,825 L437.7,825 Z" fill="#7d7d7d" stroke="#3a3a3a" stroke-width="0.6"/>
<path d="M377,821 L385.4,821 L385.4,835 L377,835 Z" fill="#fafafa"/>
<rect x="409.5" y="832" width="14" height="10" fill="#5e5e5e"/>
<path d="M439,835 L456,834 L456,849 L440,849 Z" fill="#f6f6f6"/>
<path d="M426,842 L432,842 L432,862 L426,862 Z" fill="#f6f6f6"/>
<path d="M458,826 L472,824 L472,835 L458,834 Z" fill="#f6f6f6"/>
<path d="M384.5,795.7 A43.8,43.8 0 0 1 420.7,769.9" fill="none" stroke="#2a2a2a" stroke-width="6.5"/>
</g>
<circle cx="424.5" cy="813.5" r="47" fill="none" stroke="#444" stroke-width="1"/>
<path d="M395.3,797.3 L410.9,797.3 L410.9,792.4 L424.3,802.6 L410.9,812.2 L410.9,807.2 L395.3,807.2 Z" fill="#fff" stroke="#222" stroke-width="1.3"/>
<text x="408" y="806.6" font-size="11" font-weight="bold" text-anchor="middle" fill="#111">А</text>
<line x1="301.2" y1="699.8" x2="379.3" y2="685.6" stroke="#333" stroke-width="0.8"/>
<line x1="285.3" y1="753.6" x2="382.5" y2="790.7" stroke="#333" stroke-width="0.8"/>
<path d="M550,626 Q600,624 655,626 L730,633 L770,639.5 L778,643 L787,658 L804,670 L806,679 L795,687 L795,709 L793,720 L785,732 L768,743 L762,758 L761.5,783 L553,783 L552,775 L548,751 L537,736 L524,724 L514,717 L513.5,690 L516,668 L524,649 L533,634 Z" fill="#cbcbcb"/>
<defs><pattern id="spk" x="0" y="0" width="40" height="40" patternUnits="userSpaceOnUse"><rect x="13.0" y="6.0" width="0.8" height="0.8" fill="#555"/><rect x="32.9" y="3.8" width="0.8" height="1.2" fill="#555"/><rect x="8.6" y="3.4" width="1.5" height="0.8" fill="#555"/><rect x="9.6" y="22.0" width="0.8" height="1.2" fill="#555"/><rect x="5.0" y="8.9" width="0.8" height="1.2" fill="#555"/><rect x="23.4" y="2.0" width="1" height="0.8" fill="#555"/><rect x="22.3" y="5.3" width="1.5" height="0.8" fill="#555"/><rect x="21.6" y="22.8" width="1" height="0.8" fill="#555"/><rect x="23.3" y="25.6" width="1.2" height="0.8" fill="#555"/><rect x="21.9" y="2.5" width="0.8" height="1.2" fill="#555"/><rect x="8.2" y="27.2" width="1.5" height="1" fill="#555"/><rect x="18.6" y="36.9" width="1.2" height="1" fill="#555"/><rect x="9.9" y="7.2" width="1" height="0.8" fill="#555"/><rect x="23.0" y="21.0" width="1.2" height="1.2" fill="#555"/><rect x="18.0" y="24.4" width="0.8" height="0.8" fill="#555"/><rect x="20.5" y="6.6" width="1.2" height="0.8" fill="#555"/><rect x="37.3" y="16.9" width="0.8" height="1.2" fill="#555"/><rect x="22.9" y="35.0" width="1.2" height="1" fill="#555"/><rect x="27.8" y="23.8" width="1.5" height="0.8" fill="#555"/><rect x="33.6" y="37.8" width="1.5" height="1.2" fill="#555"/><rect x="26.6" y="2.4" width="1.2" height="1.2" fill="#555"/><rect x="23.1" y="27.2" width="1.5" height="1" fill="#555"/><rect x="28.7" y="35.5" width="1.2" height="0.8" fill="#555"/><rect x="37.6" y="14.2" width="0.8" height="1" fill="#555"/><rect x="2.4" y="30.7" width="1" height="1.2" fill="#555"/><rect x="9.9" y="15.6" width="1.5" height="0.8" fill="#555"/><rect x="6.7" y="16.1" width="1.2" height="0.8" fill="#555"/><rect x="32.8" y="34.6" width="1.2" height="1.2" fill="#555"/><rect x="16.6" y="14.4" width="1.5" height="0.8" fill="#555"/><rect x="6.0" y="7.0" width="1" height="1.2" fill="#555"/><rect x="9.3" y="19.4" width="1" height="1" fill="#555"/><rect x="11.3" y="5.8" width="1.2" height="1.2" fill="#555"/><rect x="22.7" y="38.1" width="0.8" height="1" fill="#555"/><rect x="36.0" y="31.2" width="1.5" height="1" fill="#555"/><rect x="16.0" y="4.1" width="1.5" height="0.8" fill="#555"/><rect x="7.6" y="39.4" width="1.5" height="0.8" fill="#555"/><rect x="4.4" y="24.0" width="0.8" height="0.8" fill="#555"/><rect x="22.7" y="21.5" width="1.2" height="1.2" fill="#555"/><rect x="1.0" y="35.0" width="1.5" height="0.8" fill="#555"/><rect x="25.4" y="38.2" width="1.2" height="1" fill="#555"/><rect x="4.9" y="34.0" width="1.5" height="1" fill="#555"/><rect x="19.4" y="3.4" width="0.8" height="1.2" fill="#555"/><rect x="13.7" y="10.6" width="1" height="1.2" fill="#555"/><rect x="0.9" y="38.0" width="1.2" height="0.8" fill="#555"/><rect x="27.6" y="36.6" width="1.2" height="1.2" fill="#555"/><rect x="34.5" y="27.8" width="1.2" height="1.2" fill="#555"/><rect x="14.7" y="6.7" width="1" height="1.2" fill="#555"/><rect x="21.7" y="20.1" width="1" height="1.2" fill="#555"/><rect x="32.5" y="39.4" width="1" height="0.8" fill="#555"/><rect x="32.7" y="29.6" width="1" height="0.8" fill="#555"/><rect x="20.7" y="14.2" width="0.8" height="0.8" fill="#555"/><rect x="31.6" y="18.9" width="1" height="1.2" fill="#555"/><rect x="24.2" y="13.8" width="1.2" height="1" fill="#555"/><rect x="3.2" y="4.1" width="1.5" height="0.8" fill="#555"/><rect x="13.5" y="19.3" width="0.8" height="1" fill="#555"/><rect x="36.4" y="13.8" width="0.8" height="1.2" fill="#555"/><rect x="4.8" y="15.5" width="1" height="1" fill="#555"/><rect x="35.6" y="17.4" width="1.2" height="0.8" fill="#555"/><rect x="32.0" y="38.9" width="1.5" height="1" fill="#555"/><rect x="16.1" y="37.9" width="1" height="0.8" fill="#555"/><rect x="39.7" y="1.1" width="1.5" height="1.2" fill="#555"/><rect x="5.8" y="33.1" width="1.5" height="1.2" fill="#555"/><rect x="37.5" y="6.2" width="1" height="0.8" fill="#555"/><rect x="0.6" y="38.8" width="0.8" height="1.2" fill="#555"/><rect x="30.0" y="5.6" width="1" height="0.8" fill="#555"/><rect x="1.1" y="8.5" width="1" height="1.2" fill="#555"/><rect x="13.0" y="21.8" width="1" height="0.8" fill="#555"/><rect x="36.4" y="14.2" width="1.5" height="1.2" fill="#555"/><rect x="23.3" y="36.2" width="1.5" height="1.2" fill="#555"/><rect x="5.2" y="6.1" width="0.8" height="1" fill="#555"/></pattern><clipPath id="ubc"><path d="M550,626 Q600,624 655,626 L730,633 L770,639.5 L778,643 L787,658 L804,670 L806,679 L795,687 L795,709 L793,720 L785,732 L768,743 L762,758 L761.5,783 L553,783 L552,775 L548,751 L537,736 L524,724 L514,717 L513.5,690 L516,668 L524,649 L533,634 Z"/></clipPath></defs>
<rect x="510" y="620" width="300" height="165" fill="url(#spk)" clip-path="url(#ubc)" opacity="0.45"/>
<path d="M551,632 Q575,626 597,625.7 L710,626.3 Q740,630 760.5,637.6 L760.5,643 Q700,640 655,640.5 Q600,641 551,645 Z" fill="#c2c2c2"/>
<path d="M551,636 Q600,634 655,635 Q720,636 772,640 L772,645 Q720,641 655,641 Q600,641 551,644 Z" fill="#585858" opacity="0.85"/>
<path d="M551,645 Q600,643 655,643 Q720,644 760,647" fill="none" stroke="#7a7a7a" stroke-width="1.5" opacity="0.8"/>
<path d="M553,628 Q575,625 600,625 L600,628 Q575,629 553,632 Z" fill="#444" opacity="0.8"/>
<path d="M533,634 L524,649 L516,668 L513.5,690 L514,717 L524,724 L527,712 L522,690 L525,668 L531,650 L540,640 Z" fill="#5a5a5a" opacity="0.85"/>
<path d="M772,639 L778,643 L787,658 L804,670 L806,679 L795,687 L795,709 L793,720 L785,732 L782,729 L789,712 L788,690 L797,678 L784,664 L776,650 Z" fill="#4a4a4a" opacity="0.8"/>
<circle cx="777.2" cy="663.2" r="3.5" fill="none" stroke="#333" stroke-width="1.2"/>
<rect x="549.5" y="623.5" width="1.3" height="160" fill="#444"/>
<rect x="758.2" y="624.4" width="1.3" height="160" fill="#444"/>
<path d="M538,640 L549,638 L549,700 L543,680 Z" fill="#a9a9a9"/>
<rect x="759.6" y="637.6" width="10.4" height="83" fill="#a8a8a8"/>
<path d="M543,717 Q552,700 566,688 L590,690 L590,696 L570,694 Q556,705 548,720 Z" fill="#8a8a8a" opacity="0.7"/>
<path d="M767,717 Q758,700 744,688 L724,690 L724,696 L740,694 Q754,705 762,720 Z" fill="#8a8a8a" opacity="0.7"/>
<path d="M581,730 L592,713 L604,713 L609,730 Z" fill="#a8a8a8"/>
<path d="M706,730 L713,713 L725,713 L733,730 Z" fill="#a8a8a8"/>
<path d="M584,700 L565,731" stroke="#f2f2f2" stroke-width="4"/>
<path d="M730,700 L749,731" stroke="#f2f2f2" stroke-width="4"/>
<ellipse cx="656" cy="699" rx="13" ry="16" fill="#888" opacity="0.55"/>
<rect x="650.7" y="688.8" width="13" height="22.4" rx="4" fill="#b5b5b5" stroke="#333" stroke-width="1.6"/>
<circle cx="657" cy="694" r="3" fill="#333"/><circle cx="657" cy="705.3" r="2.6" fill="#333"/>
<circle cx="589.4" cy="693" r="7" fill="#777" opacity="0.6"/>
<circle cx="589.4" cy="693.6" r="3.8" fill="#3a3a3a"/>
<circle cx="589.4" cy="693.6" r="1.6" fill="#999"/>
<circle cx="723.7" cy="693" r="7" fill="#777" opacity="0.6"/>
<circle cx="723.7" cy="693.6" r="3.8" fill="#3a3a3a"/>
<circle cx="723.7" cy="693.6" r="1.6" fill="#999"/>
<path d="M613.5,643 l-6,-2 l2,6 l8,2 l4,-6 z" fill="#555"/><rect x="611" y="650" width="5" height="7" fill="#555"/>
<path d="M698.3,644 l-6,-2 l2,6 l8,2 l4,-6 z" fill="#555"/><rect x="697" y="651" width="5" height="7" fill="#555"/>
<path d="M616,672 Q650,666 690,672" fill="none" stroke="#6a6a6a" stroke-width="4" opacity="0.55"/>
<path d="M626,700 L626,664 Q633,652 641,664 L641,700" fill="none" stroke="#888" stroke-width="1.3"/>
<path d="M674,700 L674,664 Q681,652 689,664 L689,700" fill="none" stroke="#888" stroke-width="1.3"/>
<path d="M536,720 L560,735 L562,742 L555,744 L534,728 Z" fill="#888" stroke="#444" stroke-width="0.8"/>
<path d="M541,724 L556,735" stroke="#fafafa" stroke-width="2.5"/>
<path d="M775,720 L752,735 L750,742 L757,744 L777,728 Z" fill="#888" stroke="#444" stroke-width="0.8"/>
<path d="M610.5,720.5 Q611,716.5 615,716.5 L702,716.5 Q706,716.5 706,720.5 L707,726 Q708,731 713,731 L737,731 Q741,731 741,735 L741,895 Q741,900 736,900 L579,900 Q574.5,900 574.5,895 L574.5,737 Q574.5,733 579,733 L603,733 Q608,733 609,728 Z" fill="#a7a7a7" stroke="#555" stroke-width="1"/>
<line x1="574.5" y1="783.8" x2="741" y2="783.8" stroke="#555" stroke-width="0.9"/>
<path d="M574.7,827 L606.8,900 L579,900 Q574.5,900 574.5,895 Z" fill="#8d8d8d"/>
<path d="M740.8,827 L708,900 L736,900 Q741,900 741,895 Z" fill="#8d8d8d"/>
<line x1="574.7" y1="827" x2="606.8" y2="900" stroke="#555" stroke-width="0.8"/>
<line x1="740.8" y1="827" x2="708" y2="900" stroke="#555" stroke-width="0.8"/>
<rect x="628.2" y="729.9" width="24.5" height="140" rx="4" fill="#a0a0a0" stroke="#4a4a4a" stroke-width="1.3"/>
<rect x="662" y="729.9" width="24.5" height="140" rx="4" fill="#a0a0a0" stroke="#4a4a4a" stroke-width="1.3"/>
<rect x="592.3" y="753.2" width="26.5" height="25.7" rx="5" fill="#a0a0a0" stroke="#4a4a4a" stroke-width="1.3"/>
<rect x="696" y="753.2" width="26.5" height="25.7" rx="5" fill="#a0a0a0" stroke="#4a4a4a" stroke-width="1.3"/>
<ellipse cx="586" cy="740" rx="4" ry="5" fill="#8f8f8f" stroke="#333" stroke-width="1"/>
<circle cx="586" cy="740" r="1.5" fill="#333"/>
<ellipse cx="728" cy="740" rx="4" ry="5" fill="#8f8f8f" stroke="#333" stroke-width="1"/>
<circle cx="728" cy="740" r="1.5" fill="#333"/>
<ellipse cx="575.4" cy="764.5" rx="4" ry="5" fill="#8f8f8f" stroke="#333" stroke-width="1"/>
<circle cx="575.4" cy="764.5" r="1.5" fill="#333"/>
<ellipse cx="738.2" cy="764.5" rx="4" ry="5" fill="#8f8f8f" stroke="#333" stroke-width="1"/>
<circle cx="738.2" cy="764.5" r="1.5" fill="#333"/>
<ellipse cx="586" cy="804.6" rx="4" ry="5" fill="#8f8f8f" stroke="#333" stroke-width="1"/>
<circle cx="586" cy="804.6" r="1.5" fill="#333"/>
<ellipse cx="728.5" cy="804.6" rx="4" ry="5" fill="#8f8f8f" stroke="#333" stroke-width="1"/>
<circle cx="728.5" cy="804.6" r="1.5" fill="#333"/>
<ellipse cx="620.9" cy="888.4" rx="4" ry="5" fill="#8f8f8f" stroke="#333" stroke-width="1"/>
<circle cx="620.9" cy="888.4" r="1.5" fill="#333"/>
<ellipse cx="657.7" cy="887.5" rx="4" ry="5" fill="#8f8f8f" stroke="#333" stroke-width="1"/>
<circle cx="657.7" cy="887.5" r="1.5" fill="#333"/>
<ellipse cx="693.6" cy="887.5" rx="4" ry="5" fill="#8f8f8f" stroke="#333" stroke-width="1"/>
<circle cx="693.6" cy="887.5" r="1.5" fill="#333"/>
<circle cx="611.5" cy="805" r="4" fill="#222"/>
<circle cx="703" cy="808.3" r="4" fill="#222"/>
<circle cx="582.3" cy="888.4" r="4" fill="#222"/>
<circle cx="731.3" cy="888.4" r="4" fill="#222"/>
<circle cx="602" cy="801.7" r="2" fill="none" stroke="#333" stroke-width="1"/>
<circle cx="713.4" cy="804.6" r="2" fill="none" stroke="#333" stroke-width="1"/>
<path d="M522,778 L550,778 L550,784 L522,784 Z" fill="#777"/>
<path d="M524,800 L575,799 L575,810 L524,808 Z" fill="#7c7c7c" stroke="#444" stroke-width="0.8"/>
<path d="M742,800 L790,801 L790,806 L742,811 Z" fill="#7c7c7c" stroke="#444" stroke-width="0.8"/>
<path d="M525,813 L535,813 L535,818 L525,818 Z" fill="#666"/>
<path d="M525,826 Q552,840 560,880 L568,894 L561,899 L552,884 Q545,845 523,832 Z" fill="#7a7a7a" stroke="#444" stroke-width="1"/>
<path d="M790,827 Q763,840 757,878 L748,894 L754,899 L764,884 Q770,845 792,832 Z" fill="#7a7a7a" stroke="#444" stroke-width="1"/>
<rect x="563.4" y="827" width="5" height="40" fill="#777"/>
<rect x="761.5" y="789.5" width="8.5" height="92" fill="#9a9a9a" stroke="#555" stroke-width="0.8"/>
<rect x="748" y="827" width="4" height="40" fill="#777"/>
<path d="M556,876 L572,880 L569,896 L553,892 Z" fill="#8e8e8e" stroke="#444" stroke-width="0.8"/>
<path d="M552,892 L574,890 L574,900 L552,900 Z" fill="#6a6a6a"/>
<path d="M742,878 L758,874 L761,893 L745,897 Z" fill="#8e8e8e" stroke="#444" stroke-width="0.8"/>
<path d="M761,889 L779,888 L779,900 L761,900 Z" fill="#6a6a6a"/>
<path d="M652,917.7 L652,903.5 L647.3,903.5 L657.7,889.4 L668,903.5 L663.3,903.5 L663.3,917.7 Z" fill="#fff" stroke="#222" stroke-width="1.3"/>
<text x="657.7" y="912" font-size="10" font-weight="bold" text-anchor="middle" fill="#111">Г</text>
<text x="41.7" y="957.8" font-size="14" font-weight="bold" textLength="182.6" lengthAdjust="spacingAndGlyphs" fill="#1a1a1a" stroke="#1a1a1a" stroke-width="0.35">Инструкция по установке:</text>
<rect x="41" y="965.1" width="422.8" height="1.6" fill="#666"/>
<g transform="translate(41.5,0) scale(1.052,1)">
<text x="0" y="979.6" font-size="10.8" fill="#2a2a2a">1. Снять штатный пыльник.</text>
<text x="0" y="992.35" font-size="10.8" fill="#2a2a2a">2. Выкрутить штатный крепеж (А) и установить кронштейны.</text>
<text x="0" y="1005.1" font-size="10.8" fill="#2a2a2a">3. Установить переднюю часть пыльника.</text>
<text x="0" y="1017.85" font-size="10.8" fill="#2a2a2a">4. Установить в отверстия (Б) гайки фиксируемые М8х70/20 и вкрутить в них</text>
<text x="0" y="1030.6" font-size="10.8" fill="#2a2a2a">болты М8х25 на 2-3 оборота.</text>
<text x="0" y="1043.35" font-size="10.8" fill="#2a2a2a">5. Установить защиту: заднюю часть защиты завести на установленные болты</text>
<text x="0" y="1056.1" font-size="10.8" fill="#2a2a2a">М8х25, переднюю часть закрепить к кронштейнам болтами М8х25. Среднюю</text>
<text x="0" y="1068.85" font-size="10.8" fill="#2a2a2a">часть защиты закрепить к штатным отверстиям (В) болтами М6х30 через</text>
<text x="0" y="1081.6" font-size="10.8" fill="#2a2a2a">втулки Н=8.</text>
<text x="0" y="1094.35" font-size="10.8" fill="#2a2a2a">6. Заднюю часть дополнительно закрепить болтом М6х30 в отверстие (Г).</text>
<text x="0" y="1107.1" font-size="10.8" fill="#2a2a2a">7. Затянуть болты с необходимым усилием.</text>
</g>
<text x="507.2" y="957" font-size="14" font-weight="bold" textLength="116.2" lengthAdjust="spacingAndGlyphs" fill="#1a1a1a" stroke="#1a1a1a" stroke-width="0.35">Состав изделия:</text>
<rect x="490" y="967.5" width="317" height="21.7" fill="#ebebeb"/>
<rect x="490" y="965" width="317" height="1.6" fill="#666"/>
<line x1="633.4" y1="945" x2="633.4" y2="1102" stroke="#555" stroke-width="1.2" stroke-dasharray="3.5,2.5"/>
<line x1="694.3" y1="945" x2="694.3" y2="1102" stroke="#555" stroke-width="1.2" stroke-dasharray="3.5,2.5"/>
<text x="623" y="982.3" font-size="14" text-anchor="end" textLength="97.7" lengthAdjust="spacingAndGlyphs" fill="#1a1a1a" stroke="#1a1a1a" stroke-width="0.12">Наименование</text>
<text x="641.4" y="982.3" font-size="14" textLength="43.6" lengthAdjust="spacingAndGlyphs" fill="#1a1a1a" stroke="#1a1a1a" stroke-width="0.12">Кол-во</text>
<text x="699.5" y="982.3" font-size="14" textLength="108.9" lengthAdjust="spacingAndGlyphs" fill="#1a1a1a" stroke="#1a1a1a" stroke-width="0.12">Момент затяжки</text>
<text x="622.5" y="1006.8" font-size="10" text-anchor="end" fill="#2a2a2a">Болт М6х30</text>
<text x="647" y="1006.8" font-size="10" fill="#2a2a2a">3 шт.</text>
<text x="622.5" y="1017.96" font-size="10" text-anchor="end" fill="#2a2a2a">Болт М8х25</text>
<text x="647" y="1017.96" font-size="10" fill="#2a2a2a">4 шт.</text>
<text x="622.5" y="1029.12" font-size="10" text-anchor="end" fill="#2a2a2a">Шайба 6</text>
<text x="647" y="1029.12" font-size="10" fill="#2a2a2a">3 шт.</text>
<text x="622.5" y="1040.28" font-size="10" text-anchor="end" fill="#2a2a2a">Шайба 8</text>
<text x="647" y="1040.28" font-size="10" fill="#2a2a2a">7 шт.</text>
<text x="622.5" y="1051.44" font-size="10" text-anchor="end" fill="#2a2a2a">Гайка фиксируемая М8х70/20</text>
<text x="647" y="1051.44" font-size="10" fill="#2a2a2a">2 шт.</text>
<text x="622.5" y="1062.6" font-size="10" text-anchor="end" fill="#2a2a2a">Опора Н=8</text>
<text x="647" y="1062.6" font-size="10" fill="#2a2a2a">2 шт.</text>
<text x="622.5" y="1073.76" font-size="10" text-anchor="end" fill="#2a2a2a">Заглушка</text>
<text x="647" y="1073.76" font-size="10" fill="#2a2a2a">4 шт.</text>
<text x="622.5" y="1084.92" font-size="10" text-anchor="end" fill="#2a2a2a">Кронштейн</text>
<text x="647" y="1084.92" font-size="10" fill="#2a2a2a">2 шт.</text>
<text x="622.5" y="1096.08" font-size="10" text-anchor="end" fill="#2a2a2a">Защита</text>
<text x="647" y="1096.08" font-size="10" fill="#2a2a2a">1 шт.</text>
<text x="755.3" y="1006.8" font-size="10" text-anchor="middle" fill="#2a2a2a">9.8 Нм</text>
<text x="755.3" y="1017.96" font-size="10" text-anchor="middle" fill="#2a2a2a">24.0 Нм</text>
<rect x="41" y="1117.2" width="766.5" height="1.6" fill="#333"/>
<text x="42.2" y="1142" font-size="14" textLength="439" lengthAdjust="spacingAndGlyphs" fill="#1a1a1a" stroke="#1a1a1a" stroke-width="0.12">Производитель вправе вносить изменения в конструкцию защиты.</text>
<text x="42.2" y="1158" font-size="14" fill="#1a1a1a" stroke="#1a1a1a" stroke-width="0.12">Техническая поддержка: </text>
<text x="210" y="1158" font-size="14" font-weight="bold" textLength="145.4" lengthAdjust="spacingAndGlyphs" fill="#1a1a1a" stroke="#1a1a1a" stroke-width="0.35">supp@rivalauto.com</text>
<rect x="0" y="0" width="849" height="2" fill="#808080"/>
<rect x="0" y="0" width="1.7" height="1200" fill="#5a5a5a"/>
<rect x="847.2" y="0" width="1.8" height="1200" fill="#969696"/>
<rect x="0" y="1198.6" width="849" height="1.4" fill="#3c3c3c"/>
</svg>
</body></html>
